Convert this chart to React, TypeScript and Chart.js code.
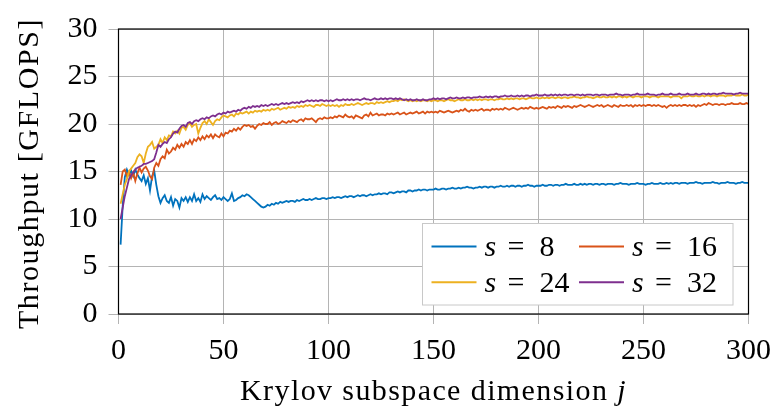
import { useEffect, useRef } from "react";
import { Chart, registerables } from "chart.js";

Chart.register(...registerables);

// Krylov subspace dimension j = 1 .. 300
const dimensions: number[] = Array.from({ length: 300 }, (_, i) => i + 1);

// Measured throughput in GFLOPS, one value per dimension j
const throughputS8 = [
  7.3, 11.4, 14.4, 15.2, 14.6, 15.1, 14.5, 15.2, 14.7, 14.3,
  14.0, 14.6, 13.7, 14.3, 13.0, 14.5, 15.1, 13.6, 12.4, 11.7,
  12.2, 12.5, 11.9, 11.7, 12.3, 11.4, 12.1, 11.9, 11.2, 12.2,
  11.9, 12.3, 11.8, 12.3, 11.9, 12.6, 11.9, 12.2, 11.8, 12.6,
  12.1, 12.4, 12.2, 12.0, 12.3, 12.5, 12.1, 12.2, 12.0, 12.3,
  12.1, 11.9, 12.1, 12.7, 11.9, 12.0, 12.2, 12.3, 12.5, 12.4,
  12.6, 12.5, 12.3, 12.1, 11.9, 11.7, 11.5, 11.3, 11.2, 11.3,
  11.5, 11.4, 11.6, 11.5, 11.7, 11.6, 11.8, 11.7, 11.8, 11.9,
  11.8, 11.9, 11.9, 11.8, 12.0, 11.9, 12.0, 12.1, 12.0, 12.0,
  12.1, 12.0, 12.1, 12.2, 12.1, 12.1, 12.2, 12.2, 12.1, 12.2,
  12.2, 12.3, 12.2, 12.3, 12.3, 12.2, 12.3, 12.4, 12.3, 12.4,
  12.4, 12.3, 12.4, 12.5, 12.4, 12.5, 12.5, 12.4, 12.5, 12.6,
  12.5, 12.6, 12.6, 12.7, 12.6, 12.7, 12.7, 12.6, 12.8, 12.8,
  12.7, 12.8, 12.9, 12.8, 12.9, 12.9, 12.8, 13.0, 13.0, 12.9,
  13.0, 13.0, 13.1, 13.0, 13.1, 13.1, 13.0, 13.1, 13.1, 13.1,
  13.2, 13.1, 13.1, 13.2, 13.2, 13.1, 13.2, 13.2, 13.3, 13.2,
  13.2, 13.3, 13.2, 13.3, 13.3, 13.4, 13.3, 13.3, 13.2, 13.3,
  13.3, 13.4, 13.3, 13.4, 13.4, 13.3, 13.4, 13.4, 13.3, 13.4,
  13.4, 13.5, 13.4, 13.4, 13.5, 13.4, 13.5, 13.5, 13.4, 13.5,
  13.5, 13.4, 13.5, 13.5, 13.6, 13.5, 13.5, 13.4, 13.5, 13.5,
  13.5, 13.6, 13.5, 13.5, 13.6, 13.6, 13.5, 13.6, 13.6, 13.5,
  13.6, 13.6, 13.7, 13.6, 13.6, 13.6, 13.7, 13.6, 13.6, 13.7,
  13.6, 13.7, 13.6, 13.7, 13.7, 13.6, 13.7, 13.7, 13.6, 13.7,
  13.7, 13.6, 13.7, 13.7, 13.7, 13.6, 13.7, 13.7, 13.8, 13.7,
  13.7, 13.7, 13.6, 13.7, 13.7, 13.7, 13.8, 13.7, 13.7, 13.7,
  13.6, 13.7, 13.7, 13.8, 13.7, 13.7, 13.7, 13.8, 13.7, 13.7,
  13.8, 13.7, 13.8, 13.7, 13.8, 13.8, 13.7, 13.8, 13.8, 13.8,
  13.7, 13.8, 13.8, 13.8, 13.9, 13.8, 13.8, 13.7, 13.8, 13.8,
  13.8, 13.8, 13.9, 13.8, 13.8, 13.7, 13.8, 13.8, 13.8, 13.9,
  13.8, 13.8, 13.8, 13.7, 13.8, 13.8, 13.9, 13.8, 13.8, 13.8,
];

const throughputS16 = [
  13.6, 15.0, 15.2, 14.5, 15.0, 14.3, 14.9, 14.0, 14.8, 15.4,
  14.9, 15.3, 15.5, 15.1, 14.5, 14.2, 15.4, 15.9, 15.6, 16.3,
  16.6, 16.4, 17.3, 16.9, 17.1, 17.5, 17.3, 17.8, 17.5, 17.9,
  17.6, 18.1, 17.9, 18.3, 17.9, 18.4, 18.2, 18.6, 18.3, 18.7,
  18.4, 18.8, 18.6, 18.9, 18.5, 18.9, 18.7, 18.6, 19.0, 18.7,
  19.1, 19.0, 19.3, 19.2, 19.5, 19.3, 19.6, 19.4, 19.7, 19.9,
  19.8, 19.9, 19.7, 19.8, 19.5, 19.8, 20.0, 19.9, 20.1, 20.0,
  20.0, 20.2, 19.9, 20.1, 20.2, 20.0, 20.1, 20.3, 20.2, 20.1,
  20.3, 20.2, 20.4, 20.3, 20.2, 20.4, 20.5, 20.3, 20.6, 20.5,
  20.5, 20.6, 20.4, 20.2, 20.5, 20.6, 20.5, 20.7, 20.6, 20.6,
  20.7, 20.6, 20.8, 20.7, 20.9, 20.8, 20.7, 21.0, 20.8, 20.7,
  20.8, 20.6, 20.9, 20.8, 20.7, 20.6, 20.9, 21.0, 20.8, 21.2,
  20.9, 21.0, 21.1, 20.9, 21.0, 21.0, 20.9, 21.1, 21.0, 21.1,
  21.0, 21.1, 21.2, 21.0, 21.1, 21.2, 21.0, 21.1, 21.2, 21.1,
  21.2, 21.3, 21.1, 21.2, 21.3, 21.1, 21.3, 21.2, 21.3, 21.2,
  21.3, 21.2, 21.4, 21.3, 21.2, 21.3, 21.4, 21.3, 21.2, 21.3,
  21.4, 21.3, 21.5, 21.4, 21.6, 21.4, 21.3, 21.5, 21.4, 21.5,
  21.4, 21.5, 21.6, 21.4, 21.5, 21.5, 21.4, 21.6, 21.5, 21.6,
  21.5, 21.6, 21.5, 21.7, 21.6, 21.5, 21.6, 21.7, 21.6, 21.5,
  21.6, 21.7, 21.6, 21.7, 21.6, 21.8, 21.7, 21.6, 21.7, 21.6,
  21.7, 21.8, 21.7, 21.6, 21.8, 21.7, 21.8, 21.7, 21.9, 21.8,
  21.7, 21.9, 21.8, 21.9, 21.8, 21.7, 21.9, 21.8, 21.9, 22.0,
  21.9, 21.8, 21.9, 22.0, 21.9, 21.8, 21.9, 22.0, 21.9, 22.0,
  21.8, 21.9, 22.0, 21.9, 21.8, 22.0, 21.9, 21.8, 22.0, 21.9,
  21.9, 22.0, 21.9, 22.0, 21.8, 22.0, 21.9, 22.0, 21.9, 22.0,
  21.9, 22.0, 22.0, 21.9, 22.0, 21.9, 22.0, 21.9, 21.8, 21.9,
  21.7, 21.9, 22.0, 21.9, 22.0, 21.9, 22.0, 21.9, 22.0, 22.0,
  21.9, 22.0, 21.9, 22.0, 21.8, 22.0, 21.9, 22.0, 22.1, 22.0,
  22.2, 22.1, 22.0, 22.1, 22.1, 22.0, 22.1, 22.1, 22.0, 22.1,
  22.1, 22.2, 22.1, 22.1, 22.1, 22.2, 22.1, 22.1, 22.2, 22.1,
];

const throughputS24 = [
  11.6, 12.6, 13.6, 14.2, 15.0, 15.3, 15.6, 15.9, 16.5, 16.8,
  16.6, 15.9, 16.9, 17.6, 17.8, 18.1, 17.4, 17.6, 17.8, 18.4,
  18.0, 18.6, 18.3, 18.8, 18.7, 19.2, 19.0, 19.3, 19.0, 19.6,
  19.7, 19.4, 19.9, 20.1, 19.7, 19.9, 20.0, 19.0, 19.6, 20.1,
  20.3, 20.0, 20.5, 20.2, 19.9, 20.3, 20.5, 20.4, 20.7, 20.9,
  20.8, 20.7, 20.9, 21.0, 20.8, 21.1, 21.0, 21.2, 21.1, 21.2,
  21.3, 21.1, 21.3, 21.2, 21.4, 21.3, 21.4, 21.3, 21.5, 21.4,
  21.5, 21.4, 21.6, 21.5, 21.6, 21.7, 21.5, 21.6, 21.7, 21.6,
  21.8, 21.7, 21.8, 21.7, 21.9, 21.8, 21.9, 21.8, 22.0, 21.9,
  22.0, 21.9, 21.8, 22.0, 22.0, 21.9, 22.1, 22.0, 21.9, 22.0,
  21.9, 22.0, 21.9, 22.0, 21.8, 22.0, 21.9, 22.1, 22.0, 22.0,
  22.1, 22.0, 22.1, 22.2, 22.1, 22.0, 22.1, 22.2, 22.1, 22.2,
  22.2, 22.1, 22.3, 22.2, 22.3, 22.2, 22.3, 22.4, 22.3, 22.4,
  22.4, 22.5, 22.4, 22.6, 22.5, 22.6, 22.5, 22.4, 22.5, 22.4,
  22.5, 22.4, 22.5, 22.4, 22.5, 22.5, 22.4, 22.5, 22.4, 22.5,
  22.5, 22.4, 22.5, 22.5, 22.4, 22.5, 22.6, 22.5, 22.5, 22.4,
  22.5, 22.6, 22.5, 22.5, 22.6, 22.5, 22.5, 22.6, 22.5, 22.6,
  22.5, 22.6, 22.5, 22.6, 22.6, 22.5, 22.6, 22.6, 22.5, 22.6,
  22.6, 22.7, 22.6, 22.6, 22.7, 22.6, 22.7, 22.6, 22.7, 22.7,
  22.6, 22.7, 22.7, 22.6, 22.7, 22.8, 22.7, 22.7, 22.8, 22.7,
  22.7, 22.8, 22.7, 22.8, 22.7, 22.8, 22.8, 22.7, 22.8, 22.8,
  22.7, 22.8, 22.8, 22.7, 22.8, 22.8, 22.9, 22.8, 22.8, 22.7,
  22.8, 22.8, 22.9, 22.8, 22.8, 22.7, 22.8, 22.9, 22.8, 22.8,
  22.9, 22.8, 22.8, 22.9, 22.8, 22.9, 22.8, 22.9, 22.9, 22.8,
  22.9, 22.8, 22.9, 22.9, 22.8, 22.9, 22.9, 22.9, 22.8, 22.9,
  22.9, 22.9, 22.8, 22.9, 22.9, 22.9, 22.8, 22.9, 22.9, 22.9,
  22.9, 22.9, 22.8, 22.9, 22.9, 22.9, 22.9, 22.7, 22.9, 22.9,
  22.9, 23.0, 22.9, 22.9, 23.0, 22.9, 22.9, 23.0, 22.9, 23.0,
  23.0, 22.9, 23.0, 23.0, 22.9, 23.0, 23.0, 23.0, 22.9, 23.0,
  23.0, 23.0, 23.1, 23.0, 23.0, 23.0, 23.1, 23.0, 23.0, 23.1,
];

const throughputS32 = [
  10.0, 11.2, 12.4, 13.3, 14.2, 14.6, 14.9, 15.2, 15.4, 15.5,
  15.6, 15.8, 15.8, 15.9, 16.0, 16.1, 16.3, 17.0, 17.8, 17.6,
  17.9, 18.1, 18.0, 18.4, 18.6, 19.0, 19.2, 19.1, 19.5, 19.8,
  19.9, 19.7, 20.1, 20.2, 20.0, 20.3, 20.4, 20.3, 20.5, 20.6,
  20.5, 20.7, 20.6, 20.8, 20.9, 20.8, 21.0, 21.1, 21.0, 21.2,
  21.1, 21.3, 21.2, 21.3, 21.4, 21.3, 21.5, 21.4, 21.6, 21.7,
  21.6, 21.8, 21.7, 21.9, 21.8, 21.9, 21.8, 22.0, 21.9, 22.0,
  21.9, 22.0, 22.1, 22.0, 22.1, 22.0, 22.1, 22.2, 22.1, 22.2,
  22.1, 22.2, 22.3, 22.2, 22.3, 22.2, 22.4, 22.3, 22.4, 22.5,
  22.4, 22.5, 22.4, 22.5, 22.4, 22.5, 22.5, 22.4, 22.5, 22.4,
  22.5, 22.4, 22.5, 22.6, 22.5, 22.5, 22.6, 22.5, 22.6, 22.5,
  22.6, 22.5, 22.6, 22.6, 22.5, 22.6, 22.7, 22.6, 22.6, 22.5,
  22.6, 22.7, 22.6, 22.6, 22.7, 22.6, 22.7, 22.6, 22.7, 22.7,
  22.6, 22.7, 22.6, 22.7, 22.6, 22.5, 22.6, 22.5, 22.6, 22.5,
  22.5, 22.6, 22.5, 22.5, 22.6, 22.5, 22.5, 22.6, 22.6, 22.7,
  22.6, 22.7, 22.6, 22.7, 22.7, 22.6, 22.7, 22.8, 22.7, 22.7,
  22.8, 22.7, 22.7, 22.8, 22.7, 22.8, 22.8, 22.7, 22.8, 22.8,
  22.8, 22.9, 22.8, 22.8, 22.9, 22.8, 22.9, 22.8, 22.9, 22.9,
  22.8, 22.9, 22.9, 23.0, 22.9, 22.9, 23.0, 22.9, 22.9, 23.0,
  22.9, 23.0, 22.9, 23.0, 23.0, 22.9, 23.0, 23.0, 23.1, 23.0,
  23.0, 23.0, 23.1, 23.0, 23.0, 23.1, 23.0, 23.1, 23.0, 23.1,
  23.0, 23.1, 23.1, 23.0, 23.1, 23.1, 23.0, 23.1, 23.1, 23.0,
  23.1, 23.0, 23.1, 23.1, 23.1, 23.0, 23.1, 23.1, 23.0, 23.1,
  23.1, 23.1, 23.0, 23.1, 23.1, 23.1, 23.2, 23.1, 23.1, 23.0,
  23.1, 23.1, 23.1, 23.0, 23.1, 23.1, 23.2, 23.1, 23.1, 23.1,
  23.1, 23.2, 23.1, 23.1, 23.1, 23.0, 23.1, 23.1, 23.2, 23.1,
  23.1, 23.1, 23.2, 23.1, 23.1, 23.1, 23.2, 23.1, 23.1, 23.1,
  23.2, 23.1, 23.1, 23.1, 23.2, 23.1, 23.1, 23.2, 23.2, 23.1,
  23.2, 23.1, 23.2, 23.2, 23.1, 23.2, 23.2, 23.3, 23.2, 23.2,
  23.2, 23.2, 23.1, 23.2, 23.2, 23.3, 23.2, 23.2, 23.2, 23.2,
];

const blockSizes = ["8", "16", "24", "32"];
const seriesValues = [throughputS8, throughputS16, throughputS24, throughputS32];
const seriesColors = ["#0072bd", "#d95319", "#edb120", "#7e2f8e"];

const SERIF = '"Liberation Serif", "DejaVu Serif", serif';
const GRID = "#b4b4b4";

// Axis frame, axis titles (with italic math symbols) and the boxed legend
const decorations = {
  id: "decorations",
  afterDatasetsDraw(chart: any) {
    const { ctx, chartArea: a } = chart;
    ctx.save();

    // frame
    ctx.strokeStyle = "#000";
    ctx.lineWidth = 1.2;
    ctx.strokeRect(a.left, a.top, a.right - a.left, a.bottom - a.top);

    ctx.fillStyle = "#000";
    ctx.textBaseline = "alphabetic";
    ctx.textAlign = "left";
    (ctx as any).letterSpacing = "1.4px";

    // x-axis title
    const upright = `30px ${SERIF}`;
    const italic = `italic 30px ${SERIF}`;
    const xText = "Krylov subspace dimension ";
    ctx.font = upright;
    const w1 = ctx.measureText(xText).width;
    ctx.font = italic;
    const w2 = ctx.measureText("j").width;
    const x0 = (a.left + a.right) / 2 - (w1 + w2) / 2;
    ctx.font = upright;
    ctx.fillText(xText, x0, 400);
    ctx.font = italic;
    ctx.fillText("j", x0 + w1, 400);

    // y-axis title
    ctx.save();
    ctx.translate(38, (a.top + a.bottom) / 2 + 2);
    ctx.rotate(-Math.PI / 2);
    ctx.font = upright;
    ctx.textAlign = "center";
    (ctx as any).letterSpacing = "1.6px";
    ctx.fillText("Throughput [GFLOPS]", 0, 0);
    ctx.restore();

    // legend box
    (ctx as any).letterSpacing = "0px";
    const boxL = a.right - 326;
    const boxT = a.bottom - 90.5;
    const boxW = 310.5;
    const boxH = 81.5;
    ctx.fillStyle = "#fff";
    ctx.fillRect(boxL, boxT, boxW, boxH);
    ctx.strokeStyle = "#c8c8c8";
    ctx.lineWidth = 1;
    ctx.strokeRect(boxL, boxT, boxW, boxH);

    const colX = [boxL + 9, boxL + 156.5];
    const rowY = [boxT + 23, boxT + 58.8];
    chart.data.datasets.forEach((ds: any, i: number) => {
      const cx = colX[i % 2];
      const cy = rowY[Math.floor(i / 2)];
      ctx.strokeStyle = ds.borderColor;
      ctx.lineWidth = 2;
      ctx.beginPath();
      ctx.moveTo(cx, cy);
      ctx.lineTo(cx + 45, cy);
      ctx.stroke();
      ctx.fillStyle = "#000";
      ctx.font = `italic 30px ${SERIF}`;
      ctx.fillText("s", cx + 53, cy + 9.5);
      ctx.font = `30px ${SERIF}`;
      ctx.fillText("=", cx + 76, cy + 9.5);
      ctx.fillText(blockSizes[i], cx + 108, cy + 9.5);
    });

    ctx.restore();
  },
};

export default function App() {
  const canvasRef = useRef<HTMLCanvasElement | null>(null);

  useEffect(() => {
    const canvas = canvasRef.current;
    if (!canvas) return;
    let chart: Chart | null = null;
    let cancelled = false;

    const build = () => {
      if (cancelled) return;
      chart = new Chart(canvas, {
        type: "line",
        data: {
          labels: dimensions,
          datasets: seriesValues.map((values, i) => ({
            label: `s = ${blockSizes[i]}`,
            data: values,
            borderColor: seriesColors[i],
            backgroundColor: seriesColors[i],
            borderWidth: 1.8,
            pointRadius: 0,
            tension: 0,
            fill: false,
            order: 4 - i,
          })),
        },
        options: {
          animation: false,
          responsive: false,
          events: [],
          layout: { padding: { left: 0, right: 25.5, top: 26, bottom: 0 } },
          plugins: {
            legend: { display: false },
            tooltip: { enabled: false },
          },
          scales: {
            x: {
              type: "linear",
              min: 0,
              max: 300,
              ticks: {
                stepSize: 50,
                maxRotation: 0,
                color: "#000",
                padding: 9,
                font: { family: SERIF, size: 30 },
              },
              grid: { color: GRID, lineWidth: 1, tickLength: 10, tickColor: GRID },
              border: { display: false },
              afterFit: (scale: any) => {
                scale.height = 92;
              },
            },
            y: {
              type: "linear",
              min: 0,
              max: 30,
              ticks: {
                stepSize: 5,
                color: "#000",
                padding: 11,
                font: { family: SERIF, size: 30 },
              },
              grid: { color: GRID, lineWidth: 1, tickLength: 10, tickColor: GRID },
              border: { display: false },
              afterFit: (scale: any) => {
                scale.width = 118.5;
              },
            },
          },
        },
        plugins: [decorations],
      });
    };

    const fonts = (document as any).fonts;
    if (fonts && fonts.load) {
      Promise.all([
        fonts.load('30px "Liberation Serif"'),
        fonts.load('italic 30px "Liberation Serif"'),
      ]).then(build, build);
    } else {
      build();
    }

    return () => {
      cancelled = true;
      if (chart) chart.destroy();
    };
  }, []);

  return (
    <div style={{ position: "absolute", left: 0, top: 0, width: 780, height: 406, background: "#fff" }}>
      <canvas ref={canvasRef} width={780} height={406} style={{ display: "block" }} />
    </div>
  );
}
